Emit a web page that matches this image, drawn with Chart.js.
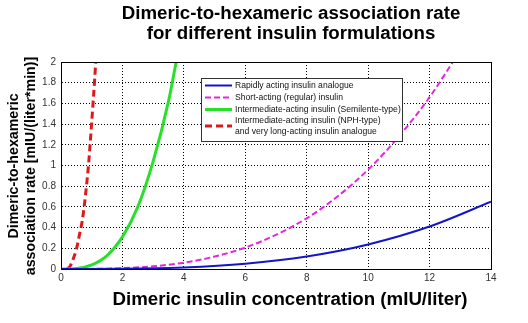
<!DOCTYPE html>
<html>
<head>
<meta charset="utf-8">
<script src="https://cdn.jsdelivr.net/npm/chart.js@4"></script>
<style>
  html, body { margin: 0; padding: 0; background: #fff; }
  #wrap { width: 528px; height: 323px; }
</style>
</head>
<body>
<div id="wrap"><canvas id="grafico" width="528" height="323"></canvas></div>
<script>
// values (x in mIU/liter, y in mIU/(liter*min))
const xRapido = [0, 2, 4, 6, 8, 10, 12, 14];
const yRapido = [0, 0.002, 0.015, 0.051, 0.121, 0.237, 0.41, 0.65];

const xRegular = [0, 1, 2, 3, 4, 5, 6, 7, 8, 9, 10, 11, 12, 12.76];
const yRegular = [0, 0.001, 0.008, 0.026, 0.061, 0.12, 0.207, 0.33, 0.49, 0.70, 0.96, 1.28, 1.66, 2.0];

const xSemilente = [0, 0.5, 1, 1.5, 2, 2.5, 3, 3.5, 3.75];
const ySemilente = [0, 0.005, 0.04, 0.13, 0.31, 0.6, 1.04, 1.62, 2.0];

const xNPH = [0.2, 0.3, 0.4, 0.5, 0.6, 0.7, 0.8, 0.9, 1.0, 1.1, 1.13];
const yNPH = [0, 0.03, 0.1, 0.19, 0.33, 0.48, 0.72, 1.02, 1.42, 1.85, 2.0];

const rotulos = [
  ['Rapidly acting insulin analogue'],
  ['Short-acting (regular) insulin'],
  ['Intermediate-acting insulin (Semilente-type)'],
  ['Intermediate-acting insulin (NPH-type)', 'and very long-acting insulin analogue']
];

const titulo = ['Dimeric-to-hexameric association rate', 'for different insulin formulations'];
const tituloX = 'Dimeric insulin concentration (mIU/liter)';
const tituloY = ['Dimeric-to-hexameric', 'association rate [mIU/(liter*min)]'];

function pontos(xs, ys) {
  return xs.map((x, i) => ({ x: x, y: ys[i] }));
}

// titles, box and legend drawn by hand
const extras = {
  id: 'extras',
  afterDraw(chart) {
    const ctx = chart.ctx;
    const a = chart.chartArea;
    ctx.save();

    ctx.strokeStyle = '#000';
    ctx.lineWidth = 1;
    ctx.strokeRect(a.left + 0.5, a.top + 0.5, a.right - a.left, a.bottom - a.top);

    ctx.fillStyle = '#000';
    ctx.textAlign = 'center';
    ctx.textBaseline = 'middle';
    ctx.font = 'bold 18.7px "Liberation Sans", Arial, sans-serif';
    ctx.fillText(titulo[0], 291, 14);
    ctx.fillText(titulo[1], 291, 34);
    ctx.fillText(tituloX, 290, 300);

    ctx.save();
    ctx.translate(14, 166);
    ctx.rotate(-Math.PI / 2);
    ctx.font = 'bold 14.2px "Liberation Sans", Arial, sans-serif';
    ctx.fillText(tituloY[0], 0, 0);
    ctx.fillText(tituloY[1], 0, 17);
    ctx.restore();

    // legend
    const lx = 201, ly = 78, lw = 201, lh = 63;
    ctx.fillStyle = '#fff';
    ctx.fillRect(lx, ly, lw, lh);
    ctx.strokeStyle = '#333';
    ctx.strokeRect(lx + 0.5, ly + 0.5, lw, lh);
    ctx.font = '8.6px "Liberation Sans", Arial, sans-serif';
    ctx.textAlign = 'left';
    const linhas = [85.5, 97.5, 109.5, 126];
    chart.data.datasets.forEach((ds, i) => {
      const y = linhas[i];
      ctx.strokeStyle = ds.borderColor;
      ctx.lineWidth = ds.borderWidth;
      ctx.setLineDash(ds.borderDash || []);
      ctx.beginPath();
      ctx.moveTo(205, y);
      ctx.lineTo(232, y);
      ctx.stroke();
      ctx.setLineDash([]);
      ctx.fillStyle = '#111';
      const txt = rotulos[i];
      if (txt.length === 1) {
        ctx.fillText(txt[0], 235, y);
      } else {
        ctx.fillText(txt[0], 235, y - 5);
        ctx.fillText(txt[1], 235, y + 6);
      }
    });
    ctx.restore();
  }
};

const ctx = document.getElementById('grafico');

new Chart(ctx, {
  type: 'scatter',
  data: {
    datasets: [
      { label: rotulos[0].join(' '), data: pontos(xRapido, yRapido), borderColor: '#1414c8', borderWidth: 2 },
      { label: rotulos[1].join(' '), data: pontos(xRegular, yRegular), borderColor: '#e028e0', borderWidth: 2, borderDash: [6, 3] },
      { label: rotulos[2].join(' '), data: pontos(xSemilente, ySemilente), borderColor: '#28e028', borderWidth: 3 },
      { label: rotulos[3].join(' '), data: pontos(xNPH, yNPH), borderColor: '#dd1a1a', borderWidth: 3, borderDash: [7, 4] }
    ].map(d => Object.assign(d, {
      showLine: true,
      pointRadius: 0,
      fill: false,
      cubicInterpolationMode: 'monotone'
    }))
  },
  options: {
    responsive: false,
    animation: false,
    layout: { padding: { top: 62, right: 37, bottom: 0, left: 0 } },
    plugins: {
      legend: { display: false },
      tooltip: { enabled: false }
    },
    scales: {
      x: {
        type: 'linear',
        min: 0,
        max: 14,
        afterFit: s => { s.height = 54; },
        ticks: {
          stepSize: 2,
          padding: 3,
          color: '#333',
          font: { size: 10, family: '"Liberation Sans", Arial, sans-serif' }
        },
        grid: { color: '#000', lineWidth: 1, drawTicks: false },
        border: { display: true, color: '#000', dash: [1, 2] }
      },
      y: {
        min: 0,
        max: 2,
        afterFit: s => { s.width = 61; },
        ticks: {
          stepSize: 0.2,
          padding: 5,
          color: '#333',
          font: { size: 10, family: '"Liberation Sans", Arial, sans-serif' },
          callback: v => String(Number(v.toFixed(1)))
        },
        grid: { color: '#000', lineWidth: 1, drawTicks: false },
        border: { display: true, color: '#000', dash: [1, 2] }
      }
    }
  },
  plugins: [extras]
});
</script>
</body>
</html>
